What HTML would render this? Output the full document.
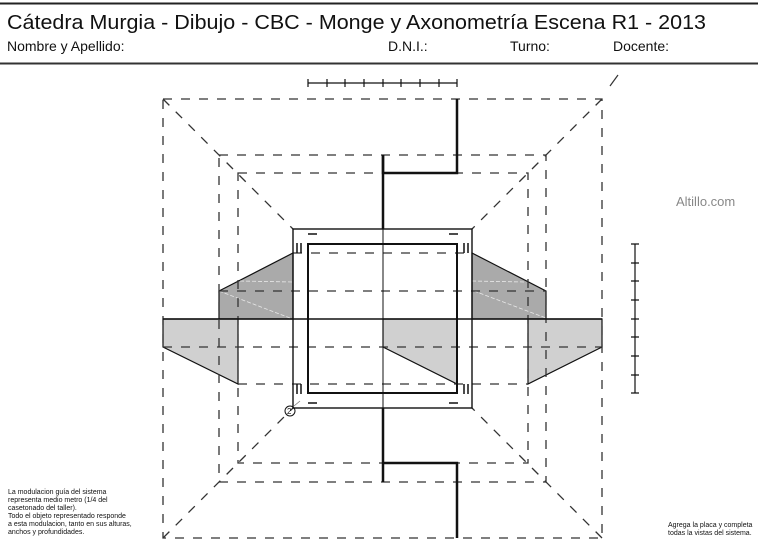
<!DOCTYPE html>
<html><head><meta charset="utf-8"><style>
html,body{margin:0;padding:0;background:#fff;}
svg{display:block;}
text{font-family:"Liberation Sans",sans-serif;}
</style></head><body>
<svg width="758" height="550" viewBox="0 0 758 550" xmlns="http://www.w3.org/2000/svg">
<rect width="758" height="550" fill="#fff"/>
<line x1="0" y1="3.5" x2="758" y2="3.5" stroke="#222" stroke-width="2"/>
<line x1="0" y1="63.5" x2="758" y2="63.5" stroke="#333" stroke-width="2"/>
<text x="7" y="29" font-size="20" fill="#111" textLength="699" lengthAdjust="spacingAndGlyphs">Cátedra Murgia - Dibujo - CBC - Monge y Axonometría Escena R1 - 2013</text>
<text x="7" y="51" font-size="14" fill="#111">Nombre y Apellido:</text>
<text x="388" y="51" font-size="14" fill="#111">D.N.I.:</text>
<text x="510" y="51" font-size="14" fill="#111">Turno:</text>
<text x="613" y="51" font-size="14" fill="#111">Docente:</text>
<text x="676" y="206" font-size="13" fill="#888">Altillo.com</text>

<g stroke="#111" stroke-width="1.2">
<polygon points="219,291 293,253 293,319 219,319" fill="#aaa"/>
<polygon points="472,253 546,291 546,319 472,319" fill="#aaa"/>
<polygon points="163,319 238,319 238,384 163,347" fill="#d0d0d0"/>
<polygon points="528,319 602,319 602,347 528,384" fill="#d0d0d0"/>
<polygon points="383,319 457,319 457,384 383,347" fill="#d0d0d0"/>
</g>
<g stroke="#e8e8e8" stroke-width="0.8" stroke-dasharray="4,2" fill="none">
<line x1="240" y1="281" x2="293" y2="282"/><line x1="219" y1="291" x2="290" y2="318"/>
<line x1="472" y1="281" x2="525" y2="282"/><line x1="474" y1="291" x2="546" y2="318"/>
</g>

<g stroke="#333" stroke-width="1.3" fill="none" stroke-dasharray="9,9">
<rect x="163" y="99" width="439" height="439"/>
<rect x="219" y="155" width="327" height="327"/>
<rect x="238" y="173" width="290" height="290"/>
<line x1="163" y1="99" x2="293" y2="229"/>
<line x1="602" y1="99" x2="472" y2="229"/>
<line x1="163" y1="538" x2="293" y2="408"/>
<line x1="602" y1="538" x2="472" y2="408"/>
<line x1="293" y1="253" x2="472" y2="253"/>
<line x1="219" y1="291" x2="546" y2="291"/>
<line x1="163" y1="347" x2="602" y2="347"/>
<line x1="238" y1="384" x2="528" y2="384"/>
</g>
<line x1="610" y1="86" x2="618" y2="75" stroke="#333" stroke-width="1.2"/>

<g stroke="#111" fill="none">
<line x1="163" y1="319" x2="602" y2="319" stroke-width="1.4"/>
<rect x="293" y="229" width="179" height="179" stroke-width="1.4"/>
<rect x="308" y="244" width="149" height="149" stroke-width="2"/>
<line x1="383" y1="229" x2="383" y2="408" stroke-width="1"/>
<polyline points="457,99 457,173 383,173 383,155" stroke-width="2.5"/>
<line x1="383" y1="155" x2="383" y2="229" stroke-width="2.5"/>
<line x1="383" y1="408" x2="383" y2="482" stroke-width="2.5"/>
<polyline points="383,463 457,463 457,538" stroke-width="2.5"/>
<g stroke-width="1.5">
<line x1="308" y1="234" x2="317" y2="234"/><line x1="449" y1="234" x2="458" y2="234"/>
<line x1="308" y1="403" x2="317" y2="403"/><line x1="449" y1="403" x2="458" y2="403"/>
<line x1="297" y1="243" x2="297" y2="253"/><line x1="301" y1="243" x2="301" y2="253"/>
<line x1="464" y1="243" x2="464" y2="253"/><line x1="468" y1="243" x2="468" y2="253"/>
<line x1="297" y1="384" x2="297" y2="394"/><line x1="301" y1="384" x2="301" y2="394"/>
<line x1="464" y1="384" x2="464" y2="394"/><line x1="468" y1="384" x2="468" y2="394"/>
</g>
<line x1="308" y1="83" x2="457" y2="83" stroke-width="1.2"/>
<path d="M308,79v8M327,79v8M345,79v8M364,79v8M383,79v8M401,79v8M420,79v8M439,79v8M457,79v8" stroke-width="1.2"/>
<line x1="635" y1="244" x2="635" y2="393" stroke-width="1.2"/>
<path d="M631,244h8M631,263h8M631,281h8M631,300h8M631,319h8M631,337h8M631,356h8M631,375h8M631,393h8" stroke-width="1.2"/>
<circle cx="290" cy="411" r="5" stroke-width="1"/>
<text x="287" y="414" font-size="8" fill="#111" stroke="none">2</text>
<line x1="294" y1="406" x2="300" y2="401" stroke="#777" stroke-width="0.8"/>
</g>

<g font-size="7" fill="#111">
<text x="8" y="494">La modulacion guía del sistema</text>
<text x="8" y="502">representa medio metro (1/4 del</text>
<text x="8" y="510">casetonado del taller).</text>
<text x="8" y="518">Todo el objeto representado responde</text>
<text x="8" y="526">a esta modulacion, tanto en sus alturas,</text>
<text x="8" y="534">anchos y profundidades.</text>
<text x="668" y="527">Agrega la placa y completa</text>
<text x="668" y="535">todas la vistas del sistema.</text>
</g>
</svg>
</body></html>
